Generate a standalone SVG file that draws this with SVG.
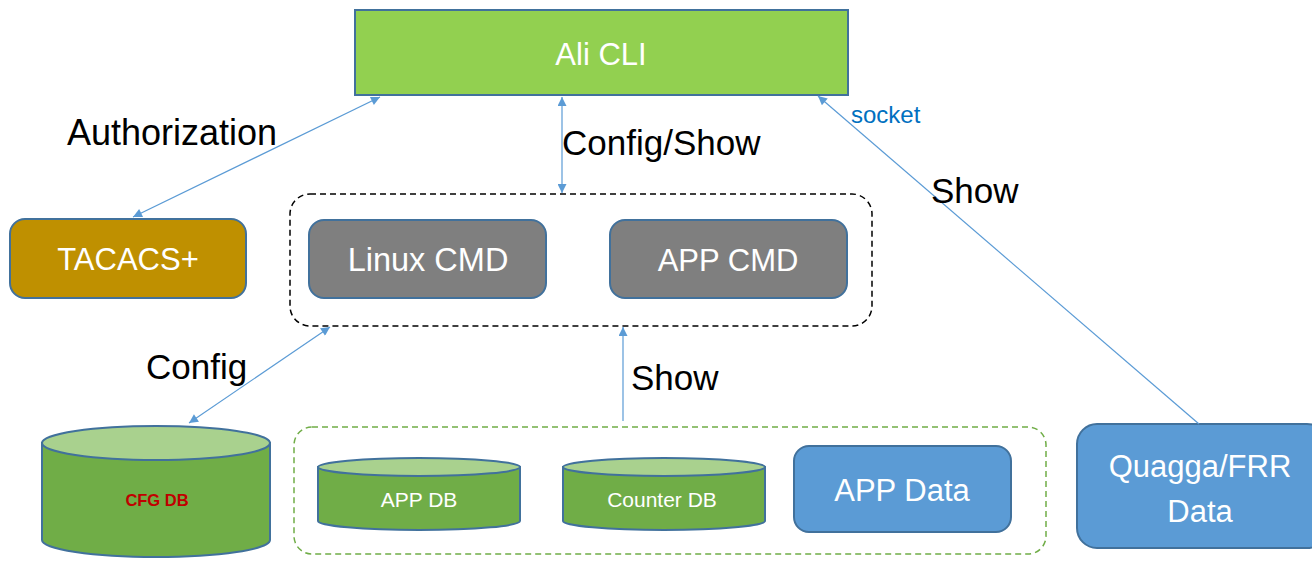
<svg xmlns="http://www.w3.org/2000/svg" width="1312" height="562" viewBox="0 0 1312 562">
<style>
.box{stroke:#41719C;stroke-width:2}
.wt{fill:#fff;font-family:"Liberation Sans",Arial,sans-serif;font-size:31px;text-anchor:middle}
.sm{font-size:21px}
.lbl{fill:#000;font-family:"Liberation Sans",Arial,sans-serif;font-size:35px}
.conn{stroke:#5B9BD5;stroke-width:1.2;fill:none}
.cylb{fill:#70AD47;stroke:#41719C;stroke-width:2}
.cylt{fill:#A9D18E;stroke:#41719C;stroke-width:2}
</style>
<defs>
<marker id="ah" viewBox="0 0 10 10" refX="10" refY="5" markerWidth="11" markerHeight="9" markerUnits="userSpaceOnUse" orient="auto-start-reverse">
<path d="M0,0 L10,5 L0,10 z" fill="#5B9BD5"/>
</marker>
</defs>
<rect width="1312" height="562" fill="#fff"/>

<g id="group-cmd">
<rect x="290" y="194" width="582" height="132" rx="20" fill="none" stroke="#000" stroke-width="1.5" stroke-dasharray="6,4"/>
</g>
<g id="group-data">
<rect x="294" y="427" width="752" height="127" rx="18" fill="none" stroke="#70AD47" stroke-width="1.5" stroke-dasharray="6,4"/>
</g>

<g id="ali-cli">
<rect class="box" x="355" y="10" width="493" height="85" fill="#92D050"/>
<text class="wt" x="601" y="65">Ali CLI</text>
</g>
<g id="tacacs">
<rect class="box" x="10" y="219" width="236" height="79" rx="15" fill="#BF9000"/>
<text class="wt" x="128" y="270">TACACS+</text>
</g>
<g id="linux-cmd">
<rect class="box" x="309" y="220" width="237" height="78" rx="15" fill="#7F7F7F"/>
<text class="wt" x="428" y="271" style="font-size:32.5px">Linux CMD</text>
</g>
<g id="app-cmd">
<rect class="box" x="610" y="220" width="237" height="78" rx="15" fill="#7F7F7F"/>
<text class="wt" x="728" y="271">APP CMD</text>
</g>
<g id="cfg-db">
<path class="cylb" d="M42,443 L42,540 A114,17 0 0 0 270,540 L270,443 Z"/>
<ellipse class="cylt" cx="156" cy="443" rx="114" ry="17"/>
<text x="157" y="506" fill="#C00000" font-family="'Liberation Sans',Arial,sans-serif" font-size="16.5" font-weight="bold" text-anchor="middle">CFG DB</text>
</g>
<g id="app-db">
<path class="cylb" d="M318,467 L318,521 A101,9 0 0 0 520,521 L520,467 Z"/>
<ellipse class="cylt" cx="419" cy="467" rx="101" ry="9"/>
<text class="wt sm" x="419" y="507">APP DB</text>
</g>
<g id="counter-db">
<path class="cylb" d="M563,467 L563,521 A101,9 0 0 0 765,521 L765,467 Z"/>
<ellipse class="cylt" cx="664" cy="467" rx="101" ry="9"/>
<text class="wt sm" x="662" y="507">Counter DB</text>
</g>
<g id="app-data">
<rect class="box" x="794" y="446" width="217" height="86" rx="15" fill="#5B9BD5"/>
<text class="wt" x="902" y="501">APP Data</text>
</g>
<g id="quagga">
<rect class="box" x="1077" y="424" width="250" height="124" rx="20" fill="#5B9BD5"/>
<text class="wt" x="1200" y="477">Quagga/FRR</text>
<text class="wt" x="1200" y="522">Data</text>
</g>

<g id="connectors">
<line class="conn" x1="133" y1="217" x2="380" y2="97" marker-start="url(#ah)" marker-end="url(#ah)"/>
<line class="conn" x1="562" y1="193" x2="562" y2="97" marker-start="url(#ah)" marker-end="url(#ah)"/>
<line class="conn" x1="189" y1="423" x2="330" y2="327" marker-start="url(#ah)" marker-end="url(#ah)"/>
<line class="conn" x1="623" y1="421" x2="623" y2="327" marker-end="url(#ah)"/>
<line class="conn" x1="1199" y1="424" x2="818" y2="96" marker-end="url(#ah)"/>
</g>

<g id="labels">
<text class="lbl" x="67" y="145" style="font-size:36px">Authorization</text>
<text class="lbl" x="562" y="155">Config/Show</text>
<text x="851" y="123" fill="#0070C0" font-family="'Liberation Sans',Arial,sans-serif" font-size="24">socket</text>
<text class="lbl" x="931" y="203">Show</text>
<text class="lbl" x="146" y="379">Config</text>
<text class="lbl" x="631" y="390">Show</text>
</g>
</svg>
